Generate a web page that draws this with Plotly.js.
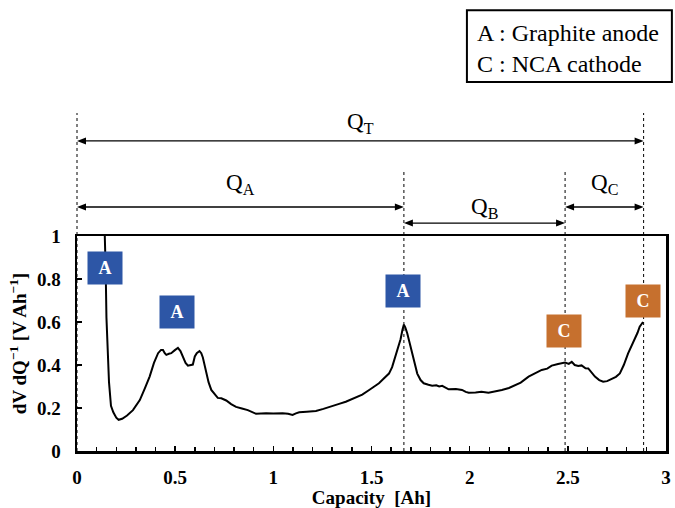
<!DOCTYPE html>
<html>
<head>
<meta charset="utf-8">
<script src="https://cdn.plot.ly/plotly-3.0.1.min.js"></script>
<style>html,body{margin:0;padding:0;background:#fff;}#chart{width:675px;height:508px;}</style>
</head>
<body>
<div id="chart"></div>
<script>
// ---- data ----
var capacity = [0.140, 0.142, 0.146, 0.150, 0.156, 0.163, 0.173, 0.185, 0.200, 0.212, 0.230, 0.255, 0.285, 0.320, 0.345, 0.370, 0.392, 0.413, 0.428, 0.438, 0.447, 0.455, 0.468, 0.480, 0.497, 0.514, 0.527, 0.540, 0.553, 0.565, 0.578, 0.590, 0.600, 0.610, 0.624, 0.633, 0.641, 0.655, 0.670, 0.684, 0.700, 0.717, 0.735, 0.760, 0.785, 0.810, 0.840, 0.870, 0.912, 0.940, 0.963, 1.000, 1.047, 1.075, 1.098, 1.115, 1.132, 1.170, 1.217, 1.255, 1.284, 1.301, 1.335, 1.369, 1.400, 1.430, 1.453, 1.490, 1.520, 1.538, 1.560, 1.589, 1.605, 1.623, 1.636, 1.648, 1.658, 1.665, 1.672, 1.682, 1.695, 1.707, 1.720, 1.733, 1.750, 1.766, 1.790, 1.809, 1.830, 1.845, 1.860, 1.880, 1.893, 1.930, 1.961, 1.980, 1.995, 2.030, 2.060, 2.096, 2.130, 2.164, 2.200, 2.232, 2.260, 2.300, 2.330, 2.367, 2.395, 2.418, 2.450, 2.486, 2.505, 2.520, 2.535, 2.553, 2.570, 2.590, 2.604, 2.620, 2.638, 2.660, 2.680, 2.700, 2.722, 2.745, 2.765, 2.785, 2.807, 2.825, 2.841, 2.855, 2.866, 2.876, 2.883];
var dvdq = [1.05, 1.00, 0.85, 0.62, 0.45, 0.32, 0.21, 0.18, 0.155, 0.145, 0.150, 0.165, 0.19, 0.237, 0.29, 0.346, 0.41, 0.455, 0.47, 0.47, 0.455, 0.447, 0.452, 0.455, 0.468, 0.48, 0.465, 0.435, 0.41, 0.397, 0.40, 0.402, 0.44, 0.455, 0.465, 0.455, 0.435, 0.38, 0.32, 0.284, 0.265, 0.247, 0.245, 0.235, 0.218, 0.205, 0.198, 0.19, 0.173, 0.176, 0.176, 0.175, 0.176, 0.173, 0.168, 0.175, 0.180, 0.183, 0.186, 0.196, 0.204, 0.206, 0.219, 0.229, 0.24, 0.252, 0.262, 0.285, 0.303, 0.315, 0.335, 0.36, 0.39, 0.44, 0.48, 0.52, 0.565, 0.588, 0.575, 0.548, 0.50, 0.455, 0.40, 0.36, 0.33, 0.315, 0.308, 0.304, 0.306, 0.300, 0.303, 0.292, 0.287, 0.288, 0.284, 0.275, 0.271, 0.272, 0.275, 0.271, 0.276, 0.284, 0.293, 0.307, 0.318, 0.346, 0.36, 0.377, 0.383, 0.397, 0.405, 0.411, 0.405, 0.415, 0.40, 0.395, 0.398, 0.385, 0.384, 0.365, 0.346, 0.33, 0.322, 0.325, 0.333, 0.345, 0.361, 0.40, 0.454, 0.49, 0.516, 0.55, 0.578, 0.59, 0.60];

var xTickVals = [0, 0.5, 1, 1.5, 2, 2.5, 3];
var xTickText = ['0', '0.5', '1', '1.5', '2', '2.5', '3'];
var yTickVals = [0, 0.2, 0.4, 0.6, 0.8, 1];
var yTickText = ['0', '0.2', '0.4', '0.6', '0.8', '1'];

// region boundaries (Ah): start, end of QA, end of QB, end of QC
var boundaries = [0, 1.665, 2.486, 2.886];
var regionNames = ['Q<sub>T</sub>', 'Q<sub>A</sub>', 'Q<sub>B</sub>', 'Q<sub>C</sub>'];

// peak markers
var peakLabels = ['A', 'A', 'A', 'C', 'C'];
var peakX = [0.142, 0.508, 1.660, 2.482, 2.883];
var peakY = [0.851, 0.647, 0.744, 0.558, 0.698];
var peakColors = ['#2D56A6', '#2D56A6', '#2D56A6', '#C6702E', '#C6702E'];

var legendLines = ['A : Graphite anode', 'C : NCA cathode'];

// ---- build ----
var serif = 'Liberation Serif, Times New Roman, serif';

var trace = {
  x: capacity, y: dvdq, type: 'scatter', mode: 'lines',
  line: {color: '#000', width: 2}, hoverinfo: 'skip'
};

var shapes = [];
var annotations = [];

// vertical dotted lines
var lineTops = [1.572, 1.298, 1.298, 1.572];
boundaries.forEach(function (b, i) {
  shapes.push({
    type: 'line', xref: i === 0 ? 'paper' : 'x', yref: 'paper',
    x0: i === 0 ? 0 : b, x1: i === 0 ? 0 : b, y0: 0, y1: lineTops[i],
    line: {color: '#000', width: 1, dash: 'dot'}
  });
});

// double-headed arrows + labels (y in paper units above the plot)
var spans = [
  {a: boundaries[0], b: boundaries[3], yArrow: 1.442, yLabel: 1.60, name: regionNames[0]},
  {a: boundaries[0], b: boundaries[1], yArrow: 1.135, yLabel: 1.315, name: regionNames[1]},
  {a: boundaries[1], b: boundaries[2], yArrow: 1.060, yLabel: 1.205, name: regionNames[2]},
  {a: boundaries[2], b: boundaries[3], yArrow: 1.135, yLabel: 1.315, name: regionNames[3]}
];
spans.forEach(function (s) {
  shapes.push({
    type: 'line', xref: 'x', yref: 'paper', x0: s.a + 0.02, x1: s.b - 0.02, y0: s.yArrow, y1: s.yArrow,
    line: {color: '#000', width: 1.3}
  });
  // arrowheads as pixel-sized paths anchored at each end
  shapes.push({
    type: 'path', xref: 'x', yref: 'paper', xsizemode: 'pixel', ysizemode: 'pixel',
    xanchor: s.a, yanchor: s.yArrow, path: 'M0,0L9,-3.5L9,3.5Z',
    fillcolor: '#000', line: {width: 0}
  });
  shapes.push({
    type: 'path', xref: 'x', yref: 'paper', xsizemode: 'pixel', ysizemode: 'pixel',
    xanchor: s.b, yanchor: s.yArrow, path: 'M0,0L-9,-3.5L-9,3.5Z',
    fillcolor: '#000', line: {width: 0}
  });
  annotations.push({
    x: (s.a + s.b) / 2, y: s.yLabel, xref: 'x', yref: 'paper', text: s.name,
    showarrow: false, font: {family: serif, size: 23, color: '#000'}
  });
});

// peak markers
peakLabels.forEach(function (t, i) {
  annotations.push({
    x: peakX[i], y: peakY[i], xref: 'x', yref: 'y', text: t, showarrow: false,
    bgcolor: peakColors[i], width: 32, height: 30,
    font: {family: serif, size: 18, color: '#fff', weight: 'bold'}
  });
});

// legend box
shapes.push({
  type: 'rect', xref: 'paper', yref: 'paper', x0: 0.662, x1: 1.01, y0: 1.716, y1: 2.05,
  line: {color: '#000', width: 2}, fillcolor: 'rgba(0,0,0,0)'
});
annotations.push({
  x: 0.676, y: 1.872, xref: 'paper', yref: 'paper', xanchor: 'left', yanchor: 'middle',
  align: 'left', showarrow: false, text: legendLines.join('<br>'),
  font: {family: serif, size: 24, color: '#000'}
});

var layout = {
  width: 675, height: 508,
  margin: {l: 77, r: 9, t: 236, b: 57, pad: 0},
  paper_bgcolor: '#fff', plot_bgcolor: '#fff',
  showlegend: false,
  xaxis: {
    range: [0, 3], tickvals: xTickVals, ticktext: xTickText,
    ticks: 'inside', ticklen: 5, tickwidth: 1.5, tickcolor: '#000',
    minor: {dtick: 0.1, ticks: 'inside', ticklen: 4, tickwidth: 1.5, tickcolor: '#000'},
    showline: true, linewidth: 2.5, linecolor: '#000', mirror: true,
    showgrid: false, zeroline: false, ticklabelstandoff: 8,
    tickfont: {family: serif, size: 19, color: '#000', weight: 'bold'},
    title: {text: 'Capacity  [Ah]', standoff: 4, font: {family: serif, size: 19, color: '#000', weight: 'bold'}}
  },
  yaxis: {
    range: [0, 1], tickvals: yTickVals, ticktext: yTickText,
    ticks: 'inside', ticklen: 5, tickwidth: 1.5, tickcolor: '#000',
    showline: true, linewidth: 2.5, linecolor: '#000', mirror: true,
    showgrid: false, zeroline: false, ticklabelstandoff: 10,
    tickfont: {family: serif, size: 19, color: '#000', weight: 'bold'},
    title: {text: 'dV dQ<sup>\u22121</sup> [V Ah<sup>\u22121</sup>]', standoff: 6, font: {family: serif, size: 19, color: '#000', weight: 'bold'}}
  },
  shapes: shapes,
  annotations: annotations
};

Plotly.newPlot('chart', [trace], layout, {staticPlot: true, displayModeBar: false});
</script>
</body>
</html>
